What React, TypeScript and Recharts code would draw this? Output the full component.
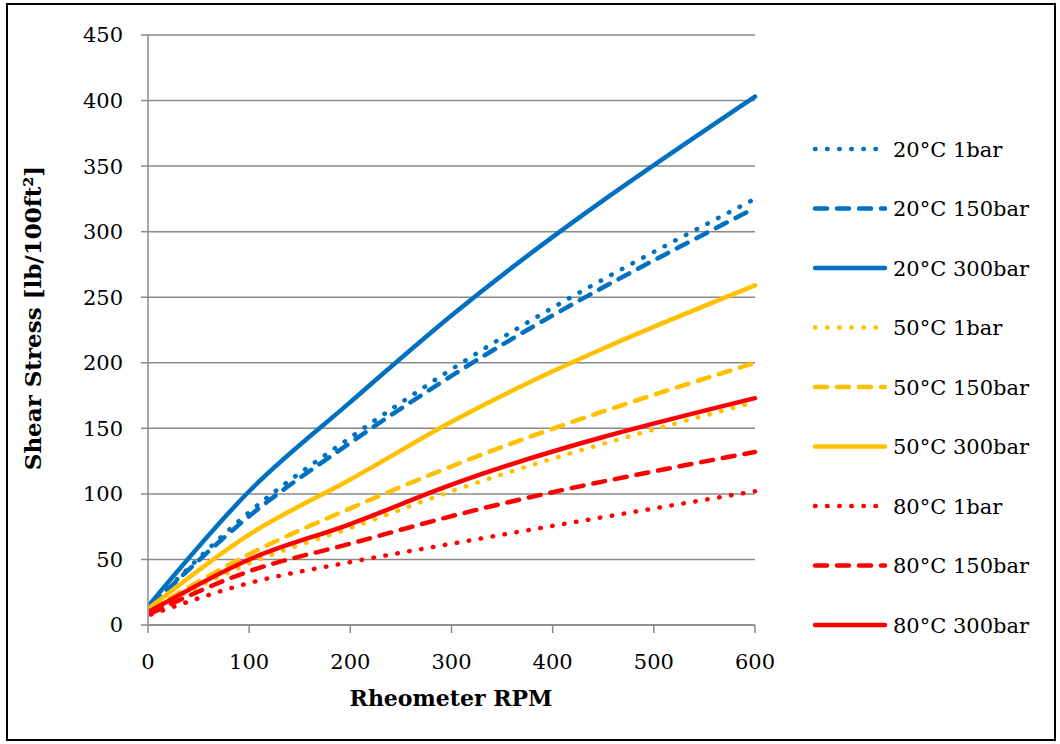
import React from "react";
import { LineChart, Line, XAxis, YAxis, CartesianGrid, Legend, Label } from "recharts";

// Rheometer speeds (RPM)
const rpm = [3, 100, 200, 300, 600];

// Shear stress [lb/100ft²]
const t20_1bar = [15, 86, 143, 195, 325];
const t20_150bar = [15, 83, 139, 190, 318];
const t20_300bar = [17, 102, 170, 236, 403];
const t50_1bar = [11, 47, 74, 102, 170];
const t50_150bar = [12, 54, 89, 121, 200];
const t50_300bar = [14, 69, 111, 155, 259];
const t80_1bar = [8, 32, 48, 62, 102];
const t80_150bar = [9, 41, 62, 83, 132];
const t80_300bar = [11, 50, 77, 107, 173];

const seriesNames = [
  "20°C 1bar",
  "20°C 150bar",
  "20°C 300bar",
  "50°C 1bar",
  "50°C 150bar",
  "50°C 300bar",
  "80°C 1bar",
  "80°C 150bar",
  "80°C 300bar",
];
const seriesValues = [
  t20_1bar,
  t20_150bar,
  t20_300bar,
  t50_1bar,
  t50_150bar,
  t50_300bar,
  t80_1bar,
  t80_150bar,
  t80_300bar,
];

const xTicks = [0, 100, 200, 300, 400, 500, 600];
const yTicks = [0, 50, 100, 150, 200, 250, 300, 350, 400, 450];

const BLUE = "#0070C0";
const YELLOW = "#FFC000";
const RED = "#FF0000";
const seriesColors = [BLUE, BLUE, BLUE, YELLOW, YELLOW, YELLOW, RED, RED, RED];
const DOT = "0.5 11.6";
const DASH = "12 10";
const seriesDash = [DOT, DASH, undefined, DOT, DASH, undefined, DOT, DASH, undefined];

const data = rpm.map((r, i) => {
  const row: Record<string, number> = { rpm: r };
  seriesValues.forEach((vals, k) => {
    row["s" + k] = vals[i];
  });
  return row;
});

const FONT = "DejaVu Serif";
const AXIS = "#8a8a8a";

const LegendContent = () => (
  <svg width={260} height={540} style={{ overflow: "visible", display: "block" }}>
    {seriesNames.map((name, i) => {
      const y = 29 + i * 59.5;
      return (
        <g key={name}>
          <line
            x1={10}
            x2={80}
            y1={y}
            y2={y}
            stroke={seriesColors[i]}
            strokeWidth={4.5}
            strokeLinecap="round"
            strokeDasharray={seriesDash[i]}
          />
          <text x={88} y={y} dy="0.36em" fontFamily={FONT} fontSize={21} fill="#000">
            {name}
          </text>
        </g>
      );
    })}
  </svg>
);

export default function App() {
  return (
    <div style={{ position: "absolute", left: 0, top: 0, width: 1060, height: 744, background: "#fff" }}>
      <div
        style={{
          position: "absolute",
          left: 6,
          top: 3,
          width: 1050,
          height: 738,
          border: "2px solid #000",
          boxSizing: "border-box",
        }}
      />
      <div style={{ position: "absolute", left: 0, top: 0 }}>
        <LineChart
          width={1060}
          height={744}
          data={data}
          margin={{ top: 35, right: 305, left: 88, bottom: 79 }}
        >
          <CartesianGrid vertical={false} stroke={AXIS} strokeWidth={1.5} />
          <XAxis
            dataKey="rpm"
            type="number"
            domain={[0, 600]}
            ticks={xTicks}
            interval={0}
            height={40}
            tickSize={8}
            tickMargin={21}
            stroke={AXIS}
            strokeWidth={1.5}
            tick={{ fill: "#000", fontSize: 21, fontFamily: FONT }}
          >
            <Label
              content={() => (
                <text
                  x={451}
                  y={698}
                  dy="0.36em"
                  textAnchor="middle"
                  fontFamily={FONT}
                  fontWeight="bold"
                  fontSize={22}
                  fill="#000"
                >
                  Rheometer RPM
                </text>
              )}
            />
          </XAxis>
          <YAxis
            type="number"
            domain={[0, 450]}
            ticks={yTicks}
            interval={0}
            width={60}
            tickSize={7}
            tickMargin={18}
            stroke={AXIS}
            strokeWidth={1.5}
            tick={{ fill: "#000", fontSize: 21, fontFamily: FONT }}
          >
            <Label
              content={() => (
                <text
                  x={33}
                  y={318}
                  dy="0.36em"
                  textAnchor="middle"
                  transform="rotate(-90 33 318)"
                  fontFamily={FONT}
                  fontWeight="bold"
                  fontSize={23}
                  fill="#000"
                >
                  Shear Stress [lb/100ft²]
                </text>
              )}
            />
          </YAxis>
          <Legend
            content={LegendContent}
            wrapperStyle={{ position: "absolute", left: 805, top: 120, width: 0, height: 0, overflow: "visible" }}
          />
          {seriesNames.map((name, k) => (
            <Line
              key={name}
              name={name}
              dataKey={"s" + k}
              type="monotone"
              stroke={seriesColors[k]}
              strokeWidth={4.5}
              strokeLinecap="round"
              strokeDasharray={seriesDash[k]}
              dot={false}
              activeDot={false}
              isAnimationActive={false}
            />
          ))}
        </LineChart>
      </div>
    </div>
  );
}
